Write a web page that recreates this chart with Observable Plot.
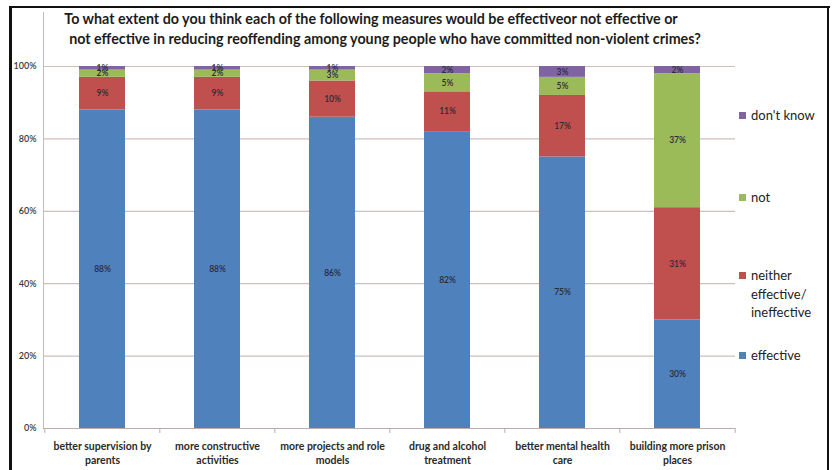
<!DOCTYPE html>
<html>
<head>
<meta charset="utf-8">
<script src="https://cdn.jsdelivr.net/npm/d3@7"></script>
<script src="https://cdn.jsdelivr.net/npm/@observablehq/plot@0.6"></script>
<style>
  html, body { margin: 0; padding: 0; background: #fff; }
  #chart { position: relative; width: 834px; height: 470px; overflow: hidden; font-family: Lato, "Open Sans", sans-serif; }
  #chart svg { position: absolute; left: 0; top: 0; }
  .border { position: absolute; background: #111; }
  .title { position: absolute; white-space: nowrap; transform: translate(-50%, -50%); font-size: 14.3px; font-weight: 700; color: #1c1c1c; }
  .legend-item { position: absolute; left: 739px; font-size: 13px; color: #222; line-height: 18.5px; }
  .legend-item .sw { position: absolute; left: 0; top: 6px; width: 7px; height: 7px; }
  .legend-item .lbl { position: absolute; left: 12px; top: 0; white-space: nowrap; }
</style>
</head>
<body>
<div id="chart"></div>
<script>
// Survey measures (x categories) and their wrapped axis labels
const categories = [
  "better supervision by parents",
  "more constructive activities",
  "more projects and role models",
  "drug and alcohol treatment",
  "better mental health care",
  "building more prison places"
];
const xLabels = [
  "better supervision by\nparents",
  "more constructive\nactivities",
  "more projects and role\nmodels",
  "drug and alcohol\ntreatment",
  "better mental health\ncare",
  "building more prison\nplaces"
];

// Response series, bottom to top of each stack
const series = ["effective", "neither effective/ ineffective", "not", "don't know"];
const legendLabels = ["effective", "neither\neffective/\nineffective", "not", "don't know"];
const colors = ["#4f81bd", "#c0504d", "#9bbb59", "#8064a2"];

// Percentages per measure
const effective = [88, 88, 86, 82, 75, 30];
const neither   = [9, 9, 10, 11, 17, 31];
const notEffective = [2, 2, 3, 5, 5, 37];
const dontKnow  = [1, 1, 1, 2, 3, 2];

const yTicks = [0, 20, 40, 60, 80, 100];

const seriesValues = [effective, neither, notEffective, dontKnow];
const rows = [];
series.forEach((s, si) => {
  categories.forEach((c, ci) => rows.push({category: c, series: s, value: seriesValues[si][ci]}));
});

const width = 834, height = 470;
const marginLeft = 43, marginRight = 99, marginTop = 66, marginBottom = 42;
const step = (width - marginLeft - marginRight) / categories.length;

const plot = Plot.plot({
  width, height, marginLeft, marginRight, marginTop, marginBottom,
  style: {fontFamily: "Lato, 'Open Sans', sans-serif", background: "transparent"},
  x: {domain: categories, paddingInner: 0.6, paddingOuter: 0.3},
  y: {domain: [0, 100]},
  color: {domain: series, range: colors},
  marks: [
    Plot.ruleY(yTicks.filter(d => d > 0), {stroke: "#cdbfbb", strokeWidth: 1.2}),
    Plot.frame({anchor: "left", stroke: "#c4bcbc", insetTop: -54}),
    Plot.ruleY([0], {stroke: "#b9aeac", strokeWidth: 1.2}),
    // small ticks at the category boundaries under the baseline
    Plot.ruleX(categories, {x: d => d, y1: 0, y2: 0, insetBottom: -5, dx: -step / 2, stroke: "#b9aeac"}),
    Plot.ruleX(categories.slice(-1), {x: d => d, y1: 0, y2: 0, insetBottom: -5, dx: step / 2, stroke: "#b9aeac"}),
    Plot.barY(rows, {x: "category", y: "value", fill: "series"}),
    Plot.text(rows, Plot.stackY({
      x: "category", y: "value", z: "series",
      text: d => d.value + "%",
      fill: "#2b2b38", fontSize: 8.5, fontWeight: 600
    })),
    Plot.axisY(yTicks, {
      label: null, tickSize: 0, tickPadding: 7, tickFormat: d => d + "%",
      fontSize: 9, fontWeight: 600, fill: "#3a3a3a"
    }),
    Plot.axisX({
      label: null, tickSize: 0, tickPadding: 12,
      tickFormat: d => xLabels[categories.indexOf(d)],
      fontSize: 10.5, fontWeight: 700, fill: "#2a2a2a", lineHeight: 1.33
    })
  ]
});

const chart = document.getElementById("chart");
chart.appendChild(plot);

// outer frame lines
function addBorder(left, top, w, h) {
  const b = document.createElement("div");
  b.className = "border";
  Object.assign(b.style, {left: left + "px", top: top + "px", width: w + "px", height: h + "px"});
  chart.appendChild(b);
}
addBorder(9, 6, 821, 2);
addBorder(9, 6, 3, 470);
addBorder(827, 6, 2, 470);

// two-line title
const titleLines = [
  {text: "To what extent do you think each of the following measures would be effectiveor not effective or", x: 371, y: 18},
  {text: "not effective in reducing reoffending among young people who have committed non-violent crimes?", x: 385, y: 38}
];
titleLines.forEach(t => {
  const el = document.createElement("div");
  el.className = "title";
  el.textContent = t.text;
  el.style.left = t.x + "px";
  el.style.top = t.y + "px";
  chart.appendChild(el);
});

// legend, top item first
const legendTops = {"don't know": 106, "not": 188, "neither effective/ ineffective": 266, "effective": 346};
[3, 2, 1, 0].forEach(i => {
  const item = document.createElement("div");
  item.className = "legend-item";
  item.style.top = legendTops[series[i]] + "px";
  const sw = document.createElement("div");
  sw.className = "sw";
  sw.style.background = colors[i];
  const lbl = document.createElement("div");
  lbl.className = "lbl";
  lbl.innerHTML = legendLabels[i].split("\n").join("<br>");
  item.appendChild(sw);
  item.appendChild(lbl);
  chart.appendChild(item);
});
</script>
</body>
</html>
